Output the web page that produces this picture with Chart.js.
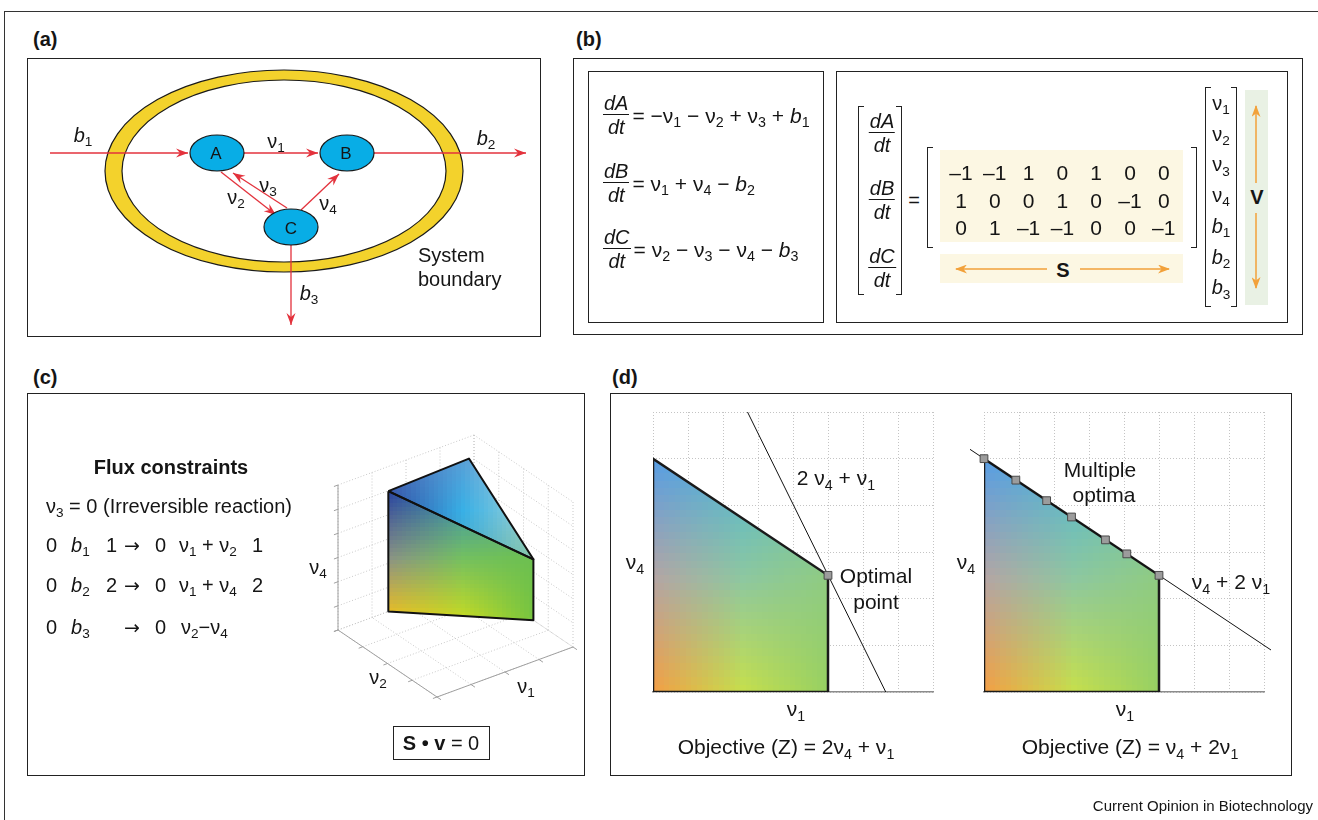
<!DOCTYPE html>
<html lang="en">
<head>
<meta charset="UTF-8">
<meta name="viewport" content="width=device-width, initial-scale=1.0">
<title>Flux balance analysis</title>
<script src="https://cdn.jsdelivr.net/npm/chart.js"></script>
<style>
  body { margin: 0; background: #fff; font-family: "Liberation Sans", Arial, sans-serif; color: #151515; }
  #page { position: relative; width: 1318px; height: 820px; overflow: hidden; }
  canvas { position: absolute; }
  .t { position: absolute; white-space: nowrap; line-height: 1; font-size: 20px; }
  .c { transform: translate(-50%, -50%); }
  .l { transform: translateY(-50%); }
  .s { font-size: 0.68em; position: relative; top: 0.32em; }
  .arr { font-family: "DejaVu Sans", sans-serif; font-size: 19px; }
  .box { position: absolute; box-sizing: border-box; border: 1.5px solid #222; }
  .lab { font-weight: bold; font-size: 20px; }
  .frac { display: inline-flex; flex-direction: column; align-items: center; font-style: italic; font-size: 20px; }
  .frac span { display: block; line-height: 20px; }
  .frac .n { border-bottom: 1.5px solid #151515; padding: 0 1px 1px; }
  .frac .d { padding-top: 2px; }
  .eq { display: flex; align-items: center; transform: translateY(-50%); font-size: 21px; }
  .eq .rhs { margin-left: 3px; }
  .brk { position: absolute; }
  .brk::before, .brk::after { content: ""; position: absolute; top: 0; bottom: 0; width: 5px; border: 1.5px solid #222; }
  .brk::before { left: 0; border-right: none; }
  .brk::after { right: 0; border-left: none; }
  .bg { position: absolute; }
</style>
</head>
<body>
<div id="page">
  <!-- outer frame (top and left edges only) -->
  <div style="position:absolute;left:4px;top:11px;width:1320px;height:820px;border-top:1.5px solid #333;border-left:1.5px solid #333"></div>

  <!-- chart canvases -->
  <canvas id="netChart" width="514" height="279" style="left:27px;top:58px"></canvas>
  <canvas id="spaceChart" width="255" height="270" style="left:327px;top:432px"></canvas>
  <canvas id="objLeft" width="300" height="295" style="left:640px;top:405px"></canvas>
  <canvas id="objRight" width="320" height="295" style="left:960px;top:405px"></canvas>

  <!-- panel boxes -->
  <div class="box" style="left:27px;top:58px;width:514px;height:279px"></div>
  <div class="box" style="left:573px;top:58px;width:730px;height:277px"></div>
  <div class="box" style="left:588px;top:71px;width:236px;height:252px"></div>
  <div class="box" style="left:836px;top:71px;width:452px;height:252px"></div>
  <div class="box" style="left:27px;top:393px;width:558px;height:383px"></div>
  <div class="box" style="left:610px;top:393px;width:682px;height:383px"></div>

  <!-- panel labels -->
  <div class="t l lab" style="left:33px;top:39px">(a)</div>
  <div class="t l lab" style="left:576px;top:39px">(b)</div>
  <div class="t l lab" style="left:33px;top:377px">(c)</div>
  <div class="t l lab" style="left:612px;top:377px">(d)</div>

  <!-- (a) network labels -->
  <div class="t c" style="left:216px;top:153px;font-size:17px">A</div>
  <div class="t c" style="left:346px;top:153px;font-size:17px">B</div>
  <div class="t c" style="left:291px;top:228px;font-size:17px">C</div>
  <div class="t c" style="left:83px;top:135px"><i>b</i><span class="s">1</span></div>
  <div class="t c" style="left:276px;top:141px">ν<span class="s">1</span></div>
  <div class="t c" style="left:486px;top:138px"><i>b</i><span class="s">2</span></div>
  <div class="t c" style="left:268px;top:185px">ν<span class="s">3</span></div>
  <div class="t c" style="left:236px;top:197px">ν<span class="s">2</span></div>
  <div class="t c" style="left:328px;top:203px">ν<span class="s">4</span></div>
  <div class="t c" style="left:309px;top:293px"><i>b</i><span class="s">3</span></div>
  <div class="t" style="left:418px;top:245px">System</div>
  <div class="t" style="left:418px;top:269px">boundary</div>

  <!-- (b) backgrounds -->
  <div class="bg" style="left:940px;top:150px;width:243px;height:92px;background:#fcf7e3"></div>
  <div class="bg" style="left:940px;top:254px;width:243px;height:29px;background:#fcf7e3"></div>
  <div class="bg" style="left:1245px;top:90px;width:23px;height:215px;background:#e9f1e4"></div>
  <div class="brk" style="left:858px;top:106px;width:44px;height:189px"></div>
  <div class="brk" style="left:927px;top:147px;width:270px;height:101px"></div>
  <div class="brk" style="left:1205px;top:87px;width:32px;height:220px"></div>
  <div class="t c" style="left:914px;top:200px">=</div>
  <div class="t c" style="left:1063px;top:270px;font-weight:bold">S</div>
  <div class="t c" style="left:1257px;top:197px;font-weight:bold">V</div>
  <svg style="position:absolute;left:0;top:0" width="1318" height="820">
    <defs>
      <marker id="oh" markerWidth="12" markerHeight="9" refX="11" refY="4.5" orient="auto" markerUnits="userSpaceOnUse">
        <path d="M0,0 L12,4.5 L0,9 L3.5,4.5 z" fill="#f2a13a"/>
      </marker>
    </defs>
    <line x1="1047" y1="269" x2="956" y2="269" stroke="#f2a13a" stroke-width="1.5" marker-end="url(#oh)"/>
    <line x1="1080" y1="269" x2="1169" y2="269" stroke="#f2a13a" stroke-width="1.5" marker-end="url(#oh)"/>
    <line x1="1256" y1="183" x2="1256" y2="106" stroke="#f2a13a" stroke-width="1.5" marker-end="url(#oh)"/>
    <line x1="1256" y1="213" x2="1256" y2="288" stroke="#f2a13a" stroke-width="1.5" marker-end="url(#oh)"/>
  </svg>

  <!-- (c) constraints -->
  <div class="t c" style="left:171px;top:467px;font-weight:bold">Flux constraints</div>
  <div class="t l" style="left:46px;top:506px">ν<span class="s">3</span> = 0 (Irreversible reaction)</div>
  <div class="t l" style="left:46px;top:545px">0</div>
  <div class="t l" style="left:71px;top:545px"><i>b</i><span class="s">1</span></div>
  <div class="t l" style="left:106px;top:545px">1</div>
  <div class="t l arr" style="left:124px;top:545px">→</div>
  <div class="t l" style="left:155px;top:545px">0</div>
  <div class="t l" style="left:179px;top:545px">ν<span class="s">1</span> + ν<span class="s">2</span></div>
  <div class="t l" style="left:252px;top:545px">1</div>
  <div class="t l" style="left:46px;top:585px">0</div>
  <div class="t l" style="left:71px;top:585px"><i>b</i><span class="s">2</span></div>
  <div class="t l" style="left:106px;top:585px">2</div>
  <div class="t l arr" style="left:124px;top:585px">→</div>
  <div class="t l" style="left:155px;top:585px">0</div>
  <div class="t l" style="left:179px;top:585px">ν<span class="s">1</span> + ν<span class="s">4</span></div>
  <div class="t l" style="left:252px;top:585px">2</div>
  <div class="t l" style="left:46px;top:627px">0</div>
  <div class="t l" style="left:71px;top:627px"><i>b</i><span class="s">3</span></div>
  <div class="t l arr" style="left:124px;top:627px">→</div>
  <div class="t l" style="left:155px;top:627px">0</div>
  <div class="t l" style="left:181px;top:627px">ν<span class="s">2</span>−ν<span class="s">4</span></div>
  <div class="t c" style="left:318px;top:567px">ν<span class="s">4</span></div>
  <div class="t c" style="left:378px;top:677px">ν<span class="s">2</span></div>
  <div class="t c" style="left:526px;top:686px">ν<span class="s">1</span></div>
  <div class="box" style="left:393px;top:726px;width:97px;height:34px;border-width:1.5px"></div>
  <div class="t c" style="left:441px;top:743px"><b>S • v</b> = 0</div>

  <!-- (d) labels -->
  <div class="t c" style="left:836px;top:477px;font-size:21px">2 ν<span class="s">4</span> + ν<span class="s">1</span></div>
  <div class="t c" style="left:876px;top:575px;font-size:21px">Optimal</div>
  <div class="t c" style="left:876px;top:601px;font-size:21px">point</div>
  <div class="t c" style="left:635px;top:561px;font-size:21px">ν<span class="s">4</span></div>
  <div class="t c" style="left:796px;top:708px;font-size:21px">ν<span class="s">1</span></div>
  <div class="t c" style="left:786px;top:746px;font-size:21px">Objective (Z) = 2ν<span class="s">4</span> + ν<span class="s">1</span></div>
  <div class="t c" style="left:1100px;top:469px;font-size:21px">Multiple</div>
  <div class="t c" style="left:1104px;top:494px;font-size:21px">optima</div>
  <div class="t c" style="left:1231px;top:581px;font-size:21px">ν<span class="s">4</span> + 2 ν<span class="s">1</span></div>
  <div class="t c" style="left:966px;top:561px;font-size:21px">ν<span class="s">4</span></div>
  <div class="t c" style="left:1125px;top:708px;font-size:21px">ν<span class="s">1</span></div>
  <div class="t c" style="left:1130px;top:746px;font-size:21px">Objective (Z) = ν<span class="s">4</span> + 2ν<span class="s">1</span></div>

  <div class="t" style="right:5px;top:798px;font-size:15px">Current Opinion in Biotechnology</div>
</div>

<script>
// ---------- data ----------
const metabolites = ['A', 'B', 'C'];
const fluxNames = ['ν1', 'ν2', 'ν3', 'ν4', 'b1', 'b2', 'b3'];
const stoich = [
  [-1, -1, 1, 0, 1, 0, 0],
  [1, 0, 0, 1, 0, -1, 0],
  [0, 1, -1, -1, 0, 0, -1]
];

// (a) network, diagram units
const nodeX = [190, 320, 264];
const nodeY = [95, 95, 169];
const arrowNames = ['b1', 'ν1', 'b2', 'ν2', 'ν3', 'ν4', 'b3'];
const arrowX0 = [23, 217, 347, 194, 260, 274, 264];
const arrowY0 = [95, 95, 95, 114, 150, 152, 187];
const arrowX1 = [161, 291, 499, 249, 206, 312, 264];
const arrowY1 = [95, 95, 95, 157, 115, 116, 267];

// (c) solution space corners (v1, v2, v4)
const cornerV1 = [0.37, 0.81, 1.0, 1.0, 0.37];
const cornerV2 = [1.0, 0.79, 0.4, 0.4, 1.0];
const cornerV4 = [0.83, 1.0, 0.42, 0.0, 0.0];
const topFace = [0, 1, 2, 0];
const frontFace = [0, 2, 3, 4, 0];
const ticksV1 = [0, 0.25, 0.5, 0.75, 1];
const ticksV2 = [0, 0.25, 0.5, 0.75, 1];
const ticksV4 = [0, 0.167, 0.333, 0.5, 0.667, 0.833, 1];

// (d) feasible region and objectives
const feasV1 = [0, 0, 5, 5, 0];
const feasV4 = [0, 5, 2.5, 0, 0];
const objLeftV1 = [2.7, 6.65];
const objLeftV4 = [6, 0];
const optLeftV1 = [5];
const optLeftV4 = [2.5];
const objRightV1 = [-0.4, 8.2];
const objRightV4 = [5.2, 0.9];
const optRightV1 = [0, 0.91, 1.79, 2.5, 3.47, 4.08, 5];
const optRightV4 = [5, 4.54, 4.1, 3.75, 3.26, 2.96, 2.5];

// colour patches (3x3 corner colours, bilinear)
const feasColors = [
  ['#5a9ee2', '#52b6d4', '#6cc4b4'],
  ['#b4a6a4', '#8ec8a0', '#90cc80'],
  ['#f4a042', '#c8e04a', '#96d062']
];
const frontColors = [
  ['#2c48a0', '#3490b8', '#5cb098'],
  ['#8a9484', '#74c060', '#6cc050'],
  ['#f6c418', '#cadc20', '#74c440']
];
const topColors = [
  ['#4c6cb8', '#58a0d8', '#b4dce4'],
  ['#3050a6', '#38b0e6', '#a6d6d6'],
  ['#3050a6', '#4aa8c8', '#86c8a4']
];

const RED = '#e3323c';

// ---------- html text built from data ----------
const page = document.getElementById('page');
const fmt = name => (name[0] === 'b' ? '<i>b</i>' : name[0]) + '<span class="s">' + name.slice(1) + '</span>';

function addText(html, x, y, extra) {
  const d = document.createElement('div');
  d.className = 't c';
  d.style.left = x + 'px';
  d.style.top = y + 'px';
  if (extra) d.style.cssText += extra;
  d.innerHTML = html;
  page.appendChild(d);
  return d;
}
const fracHtml = m => '<span class="frac"><span class="n">d' + m + '</span><span class="d">dt</span></span>';

function rhsFor(row) {
  let out = '';
  row.forEach((v, k) => {
    if (!v) return;
    if (out === '') out += v < 0 ? '−' : '';
    else out += v < 0 ? ' − ' : ' + ';
    out += fmt(fluxNames[k]);
  });
  return out;
}

// mass balances, left box
metabolites.forEach((m, r) => {
  const d = document.createElement('div');
  d.className = 't eq';
  d.style.left = '603px';
  d.style.top = [115, 183, 249][r] + 'px';
  d.innerHTML = fracHtml(m) + '<span class="rhs">= ' + rhsFor(stoich[r]) + '</span>';
  page.appendChild(d);
});

// matrix form
metabolites.forEach((m, r) => addText(fracHtml(m), 882, [133, 200, 268][r]));
stoich.forEach((row, r) => row.forEach((v, k) => {
  addText(v < 0 ? '–' + (-v) : String(v), 961 + k * 33.8, 172 + r * 27.5, 'font-size:21px');
}));
fluxNames.forEach((n, i) => addText(fmt(n), 1221, 103 + i * 30.7));

// ---------- chart helpers ----------
function paintPatch(ctx, pts, cols) {
  const xs = pts.map(p => p.x), ys = pts.map(p => p.y);
  const x0 = Math.min(...xs), x1 = Math.max(...xs);
  const y0 = Math.min(...ys), y1 = Math.max(...ys);
  const off = document.createElement('canvas');
  off.width = 3; off.height = 3;
  const o = off.getContext('2d');
  cols.forEach((row, r) => row.forEach((c, k) => { o.fillStyle = c; o.fillRect(k, r, 1, 1); }));
  ctx.save();
  ctx.beginPath();
  pts.forEach((p, i) => i ? ctx.lineTo(p.x, p.y) : ctx.moveTo(p.x, p.y));
  ctx.closePath();
  ctx.clip();
  ctx.imageSmoothingEnabled = true;
  ctx.drawImage(off, 0.5, 0.5, 2, 2, x0, y0, x1 - x0, y1 - y0);
  ctx.restore();
}

function arrowHead(ctx, from, to, color) {
  const ang = Math.atan2(to.y - from.y, to.x - from.x);
  ctx.save();
  ctx.translate(to.x, to.y);
  ctx.rotate(ang);
  ctx.beginPath();
  ctx.moveTo(0, 0);
  ctx.lineTo(-12, -4.5);
  ctx.lineTo(-8, 0);
  ctx.lineTo(-12, 4.5);
  ctx.closePath();
  ctx.fillStyle = color;
  ctx.fill();
  ctx.restore();
}

const baseOptions = {
  responsive: false,
  animation: false,
  events: [],
  plugins: { legend: { display: false }, tooltip: { enabled: false } }
};

// ---------- (a) network ----------
const networkPlugin = {
  id: 'network',
  beforeDatasetsDraw(chart) {
    const { ctx, scales: { x, y } } = chart;
    const cx = x.getPixelForValue(257), cy = y.getPixelForValue(113);
    ctx.save();
    ctx.lineWidth = 1.2;
    ctx.strokeStyle = '#1a1a1a';
    ctx.beginPath();
    ctx.ellipse(cx, cy, 179, 101, 0, 0, 2 * Math.PI);
    ctx.fillStyle = '#f3d22c';
    ctx.fill();
    ctx.stroke();
    ctx.beginPath();
    ctx.ellipse(cx, cy, 162, 91, 0, 0, 2 * Math.PI);
    ctx.fillStyle = '#fff';
    ctx.fill();
    ctx.stroke();
    ctx.restore();
  },
  afterDatasetsDraw(chart) {
    const { ctx, scales: { x, y } } = chart;
    chart.data.datasets.forEach((ds, i) => {
      const pts = chart.getDatasetMeta(i).data;
      arrowHead(ctx, pts[0], pts[1], RED);
    });
    ctx.save();
    nodeX.forEach((nx, i) => {
      ctx.beginPath();
      ctx.ellipse(x.getPixelForValue(nx), y.getPixelForValue(nodeY[i]), 27, 18, 0, 0, 2 * Math.PI);
      ctx.fillStyle = '#08ade6';
      ctx.fill();
      ctx.lineWidth = 1.2;
      ctx.strokeStyle = '#1a1a1a';
      ctx.stroke();
    });
    ctx.restore();
  }
};

new Chart(document.getElementById('netChart'), {
  type: 'scatter',
  data: {
    datasets: arrowNames.map((name, i) => ({
      label: name,
      data: [{ x: arrowX0[i], y: arrowY0[i] }, { x: arrowX1[i], y: arrowY1[i] }],
      showLine: true,
      borderColor: RED,
      borderWidth: 1.3,
      pointRadius: 0
    }))
  },
  options: {
    ...baseOptions,
    scales: {
      x: { type: 'linear', min: 0, max: 514, display: false },
      y: { type: 'linear', min: 0, max: 279, reverse: true, display: false }
    }
  },
  plugins: [networkPlugin]
});

// ---------- (c) solution space ----------
const proj = (a, b, c) => ({ x: 136 * a - 99 * b, y: 50 * a + 67 * b + 145 * c });
const facePoints = idx => idx.map(k => proj(cornerV1[k], cornerV2[k], cornerV4[k]));

const boxPlugin = {
  id: 'box3d',
  beforeDatasetsDraw(chart) {
    const { ctx, scales: { x, y } } = chart;
    const P = (a, b, c) => { const q = proj(a, b, c); return [x.getPixelForValue(q.x), y.getPixelForValue(q.y)]; };
    const seg = (p, q) => { ctx.moveTo(p[0], p[1]); ctx.lineTo(q[0], q[1]); };
    ctx.save();
    ctx.lineWidth = 1;
    ctx.strokeStyle = '#c8c8c8';
    ctx.setLineDash([1, 2]);
    ctx.beginPath();
    ticksV1.forEach(t => { seg(P(t, 1, 0), P(t, 1, 1)); seg(P(t, 0, 0), P(t, 1, 0)); });
    ticksV2.forEach(t => { seg(P(1, t, 0), P(1, t, 1)); seg(P(0, t, 0), P(1, t, 0)); });
    ticksV4.forEach(t => { seg(P(0, 1, t), P(1, 1, t)); seg(P(1, 1, t), P(1, 0, t)); });
    ctx.stroke();
    ctx.setLineDash([]);
    ctx.strokeStyle = '#a0a0a0';
    ctx.beginPath();
    seg(P(0, 1, 0), P(0, 1, 1));
    seg(P(0, 1, 0), P(0, 0, 0));
    seg(P(0, 0, 0), P(1, 0, 0));
    ticksV4.forEach(t => seg(P(0, 1, t), P(-0.03, 1, t)));
    ticksV2.forEach(t => seg(P(0, t, 0), P(-0.03, t, 0)));
    ticksV1.forEach(t => seg(P(t, 0, 0), P(t, -0.04, 0)));
    ctx.stroke();
    ctx.restore();
    const pix = i => chart.getDatasetMeta(i).data.map(p => ({ x: p.x, y: p.y }));
    paintPatch(ctx, pix(0), topColors);
    paintPatch(ctx, pix(1), frontColors);
  }
};

new Chart(document.getElementById('spaceChart'), {
  type: 'scatter',
  data: {
    datasets: [
      { label: 'top face', data: facePoints(topFace), showLine: true, borderColor: '#111', borderWidth: 2, pointRadius: 0, borderJoinStyle: 'round' },
      { label: 'front face', data: facePoints(frontFace), showLine: true, borderColor: '#111', borderWidth: 2, pointRadius: 0, borderJoinStyle: 'round' }
    ]
  },
  options: {
    ...baseOptions,
    scales: {
      x: { type: 'linear', min: -110, max: 145, display: false },
      y: { type: 'linear', min: -5, max: 265, display: false }
    }
  },
  plugins: [boxPlugin]
});

// ---------- (d) objective charts ----------
const feasiblePlugin = {
  id: 'feasible',
  beforeDatasetsDraw(chart) {
    const idx = chart.data.datasets.findIndex(d => d.label === 'feasible');
    const pts = chart.getDatasetMeta(idx).data.map(p => ({ x: p.x, y: p.y }));
    paintPatch(chart.ctx, pts, feasColors);
  }
};

function objectiveChart(id, objV1, objV4, optV1, optV4, pad) {
  const xy = (a, b) => a.map((v, i) => ({ x: v, y: b[i] }));
  return new Chart(document.getElementById(id), {
    type: 'scatter',
    data: {
      datasets: [
        { label: 'optima', data: xy(optV1, optV4), pointStyle: 'rect', pointRadius: 5.5,
          pointBackgroundColor: '#9c9c9c', pointBorderColor: '#4a4a4a', pointBorderWidth: 1, clip: false },
        { label: 'objective', data: xy(objV1, objV4), showLine: true, borderColor: '#111',
          borderWidth: 1, pointRadius: 0, clip: false },
        { label: 'feasible', data: xy(feasV1, feasV4), showLine: true, borderColor: '#1a1a1a',
          borderWidth: 2.5, pointRadius: 0 }
      ]
    },
    options: {
      ...baseOptions,
      layout: { padding: pad },
      scales: {
        x: { type: 'linear', min: 0, max: 8, ticks: { display: false, stepSize: 1 },
             grid: { color: '#c4c4c4', drawTicks: false },
             border: { display: true, color: '#8c8c8c', width: 1.5, dash: [1, 2] } },
        y: { type: 'linear', min: 0, max: 6, ticks: { display: false, stepSize: 1 },
             grid: { color: '#c4c4c4', drawTicks: false },
             border: { display: false, dash: [1, 2] } }
      }
    },
    plugins: [feasiblePlugin]
  });
}

objectiveChart('objLeft', objLeftV1, objLeftV4, optLeftV1, optLeftV4, { left: 13, top: 7, right: 7, bottom: 8 });
objectiveChart('objRight', objRightV1, objRightV4, optRightV1, optRightV4, { left: 24, top: 7, right: 16, bottom: 8 });
</script>
</body>
</html>
